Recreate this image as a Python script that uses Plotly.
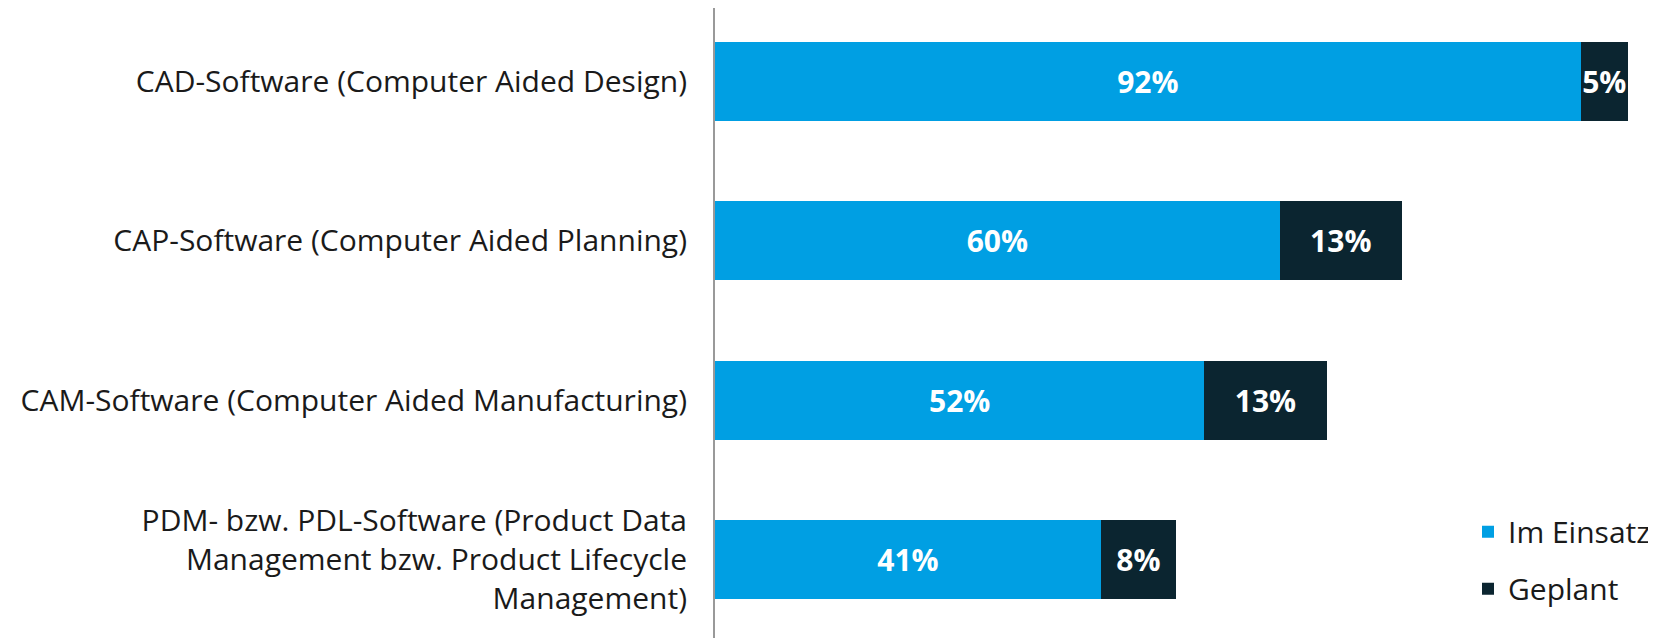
import plotly.graph_objects as go

# data
categories = [
    "CAD-Software (Computer Aided Design)",
    "CAP-Software (Computer Aided Planning)",
    "CAM-Software (Computer Aided Manufacturing)",
    "PDM- bzw. PDL-Software (Product Data<br>Management bzw. Product Lifecycle<br>Management)",
]
im_einsatz = [92, 60, 52, 41]
geplant = [5, 13, 13, 8]

blue = "#009FE3"
dark = "#0B2530"
label_font = dict(color="white", size=30, family="Open Sans", weight="bold")

fig = go.Figure()
fig.add_trace(go.Bar(
    y=categories, x=im_einsatz, name="Im Einsatz", orientation="h",
    marker_color=blue, marker_line_width=0, legendgroup="a",
    text=[f"{v}%" for v in im_einsatz], textposition="inside",
    insidetextanchor="middle", constraintext="none", textangle=0,
    textfont=label_font, hoverinfo="skip",
))
fig.add_trace(go.Bar(
    y=categories, x=geplant, name="Geplant", orientation="h",
    marker_color=dark, marker_line_width=0, legendgroup="b",
    text=[f"{v}%" for v in geplant], textposition="inside",
    insidetextanchor="middle", constraintext="none", textangle=0,
    textfont=label_font, hoverinfo="skip",
))

# page body has an 8px margin, so the figure is sized to end at the window edge
fig.update_layout(
    width=1648, height=630,
    barmode="stack", bargap=0.505,
    plot_bgcolor="white", paper_bgcolor="white",
    margin=dict(l=707, r=0, t=0, b=0, autoexpand=False),
    font=dict(family="Open Sans", size=30, color="#1a1a1a"),
    legend=dict(
        x=1, xanchor="right", y=0.21, yanchor="top",
        traceorder="grouped", tracegroupgap=15,
        font=dict(size=30), bgcolor="rgba(0,0,0,0)",
    ),
)
fig.update_xaxes(range=[0, 100], visible=False)
fig.update_yaxes(
    range=[3.49, -0.458], showline=True, linecolor="#999999", linewidth=2,
    ticks="", ticklabelstandoff=20, showgrid=False, automargin=False,
)

fig.write_html("out.html")
